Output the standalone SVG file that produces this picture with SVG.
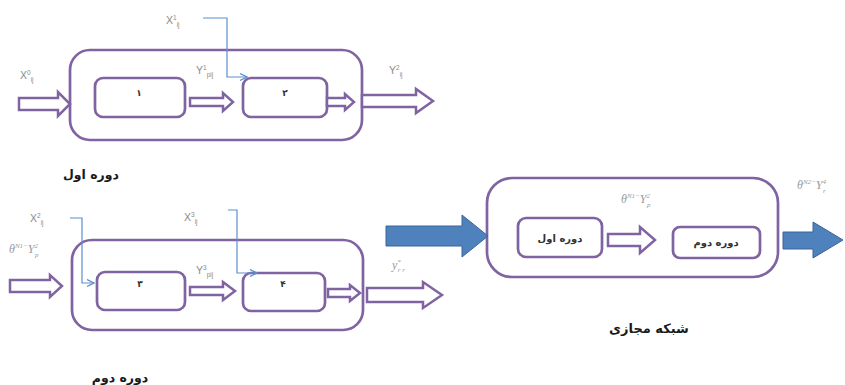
<svg xmlns="http://www.w3.org/2000/svg" width="845" height="385" viewBox="0 0 845 385">
  <defs>
    <style>
      .frame { fill: #fff; stroke: #8064A2; stroke-width: 2.7; }
      .box { fill: #fff; stroke: #8064A2; stroke-width: 2.7; }
      .hollow { fill: #fff; stroke: #8064A2; stroke-width: 2.5; stroke-linejoin: miter; }
      .solid { fill: #4F81BD; stroke: #3A659A; stroke-width: 1; }
      .feed { fill: none; stroke: #5B8FD0; stroke-width: 1.2; }
      .var { font-family: "Liberation Sans", Arial, sans-serif; font-size: 10.5px; fill: #8a8a8a; }
      .var .s { font-size: 6.5px; }
      .math { font-family: "Liberation Serif", "Times New Roman", serif; font-style: italic; font-size: 12px; fill: #9a9a9a; }
      .math .s { font-size: 7px; }
      .fa { font-family: "DejaVu Sans", "Noto Sans", sans-serif; font-weight: bold; fill: #1a1a1a; }
      .num { font-family: "DejaVu Sans", sans-serif; font-size: 9px; font-weight: bold; fill: #333; }
      .inner { font-family: "DejaVu Sans", sans-serif; font-size: 10px; font-weight: bold; fill: #333; }
    </style>
    <marker id="open" markerWidth="8" markerHeight="8" refX="7" refY="4" orient="auto" markerUnits="userSpaceOnUse">
      <path d="M0,0.5 L7,4 L0,7.5" fill="none" stroke="#5B8FD0" stroke-width="1.2"/>
    </marker>
  </defs>

  <!-- stage 1 -->
  <g id="stage1">
    <rect class="frame" x="70" y="50" width="292" height="90" rx="20"/>
    <text class="fa" x="91" y="179" font-size="12.5" text-anchor="middle">دوره اول</text>
  </g>
  <g id="node1">
    <rect class="box" x="95" y="78" width="90" height="39" rx="8"/>
    <text class="num" x="139" y="96" text-anchor="middle">۱</text>
  </g>
  <g id="node2">
    <rect class="box" x="243" y="78" width="84" height="39" rx="8"/>
    <text class="num" x="285" y="96" text-anchor="middle">۲</text>
  </g>

  <!-- stage 2 -->
  <g id="stage2">
    <rect class="frame" x="72" y="240" width="291" height="90" rx="20"/>
    <text class="fa" x="120" y="382" font-size="12.5" text-anchor="middle">دوره دوم</text>
  </g>
  <g id="node3">
    <rect class="box" x="97" y="272" width="88" height="38" rx="8"/>
    <text class="num" x="140" y="287" text-anchor="middle">۳</text>
  </g>
  <g id="node4">
    <rect class="box" x="243" y="273" width="82" height="38" rx="8"/>
    <text class="num" x="283" y="287" text-anchor="middle">۴</text>
  </g>

  <!-- virtual network -->
  <g id="virtual">
    <rect class="frame" x="487" y="178" width="291" height="99" rx="25"/>
    <text class="fa" x="649" y="333" font-size="13" text-anchor="middle">شبکه مجازی</text>
  </g>
  <g id="vfirst">
    <rect class="box" x="518" y="218" width="84" height="39" rx="8"/>
    <text class="inner" x="560" y="242" text-anchor="middle">دوره اول</text>
  </g>
  <g id="vsecond">
    <rect class="box" x="673" y="227" width="87" height="31" rx="7"/>
    <text class="inner" x="716" y="246" text-anchor="middle">دوره دوم</text>
  </g>

  <!-- connectors -->
  <g id="connectors">
    <!-- hollow block arrows -->
    <polygon class="hollow" points="19,98 58,98 58,92 70,104 58,116 58,110 19,110"/>
    <polygon class="hollow" points="190,98 223,98 223,93 233,102 223,111 223,106 190,106"/>
    <polygon class="hollow" points="327,98 345,98 345,94 354,102 345,110 345,106 327,106"/>
    <polygon class="hollow" points="362,95 416,95 416,89 433,101 416,113 416,107 362,107"/>

    <polygon class="hollow" points="10,280 50,280 50,275 62,286 50,297 50,292 10,292"/>
    <polygon class="hollow" points="190,287 223,287 223,282 235,291 223,300 223,295 190,295"/>
    <polygon class="hollow" points="328,289 350,289 350,285 360,293 350,301 350,297 328,297"/>
    <polygon class="hollow" points="367,288 423,288 423,282 442,295 423,308 423,302 367,302"/>

    <polygon class="hollow" points="608,234 640,234 640,227 655,240 640,253 640,246 608,246"/>

    <!-- solid block arrows -->
    <polygon class="solid" points="386,226 462,226 462,215 488,236 462,257 462,246 386,246"/>
    <polygon class="solid" points="783,232 813,232 813,222 843,240 813,258 813,249 783,249"/>

    <!-- feed lines -->
    <path class="feed" d="M203,18 H227 V77 H247" marker-end="url(#open)"/>
    <path class="feed" d="M70,218 H82 V283 H94" marker-end="url(#open)"/>
    <path class="feed" d="M228,210 H237 V273 H257" marker-end="url(#open)"/>
  </g>

  <!-- variable labels -->
  <g id="labels">
    <text class="var" x="166" y="24">X<tspan class="s" dy="-4">1</tspan><tspan class="s" dy="7">ij</tspan></text>
    <text class="var" x="20" y="79">X<tspan class="s" dy="-4">0</tspan><tspan class="s" dy="7">ij</tspan></text>
    <text class="var" x="196" y="74">Y<tspan class="s" dy="-4">1</tspan><tspan class="s" dy="7">pij</tspan></text>
    <text class="var" x="389" y="74">Y<tspan class="s" dy="-4">2</tspan><tspan class="s" dy="7">ij</tspan></text>
    <text class="var" x="30" y="222">X<tspan class="s" dy="-4">2</tspan><tspan class="s" dy="7">ij</tspan></text>
    <text class="var" x="184" y="221">X<tspan class="s" dy="-4">3</tspan><tspan class="s" dy="7">ij</tspan></text>
    <text class="var" x="196" y="274">Y<tspan class="s" dy="-4">3</tspan><tspan class="s" dy="7">pij</tspan></text>

    <text class="math" x="9" y="253">θ<tspan class="s" dy="-5">N1−</tspan><tspan dy="5">Y</tspan><tspan class="s" dy="-5">2</tspan><tspan class="s" dx="-3" dy="9">p</tspan></text>
    <text class="math" x="621" y="203">θ<tspan class="s" dy="-5">N1−</tspan><tspan dy="5">Y</tspan><tspan class="s" dy="-5">2</tspan><tspan class="s" dx="-3" dy="9">p</tspan></text>
    <text class="math" x="797" y="189">θ<tspan class="s" dy="-5">N2−</tspan><tspan dy="5">Y</tspan><tspan class="s" dy="-5">4</tspan><tspan class="s" dx="-3" dy="9">r</tspan></text>
    <text class="math" x="392" y="269">y<tspan class="s" dy="-5">*</tspan><tspan class="s" dx="-3" dy="8">r r</tspan></text>
  </g>
</svg>
